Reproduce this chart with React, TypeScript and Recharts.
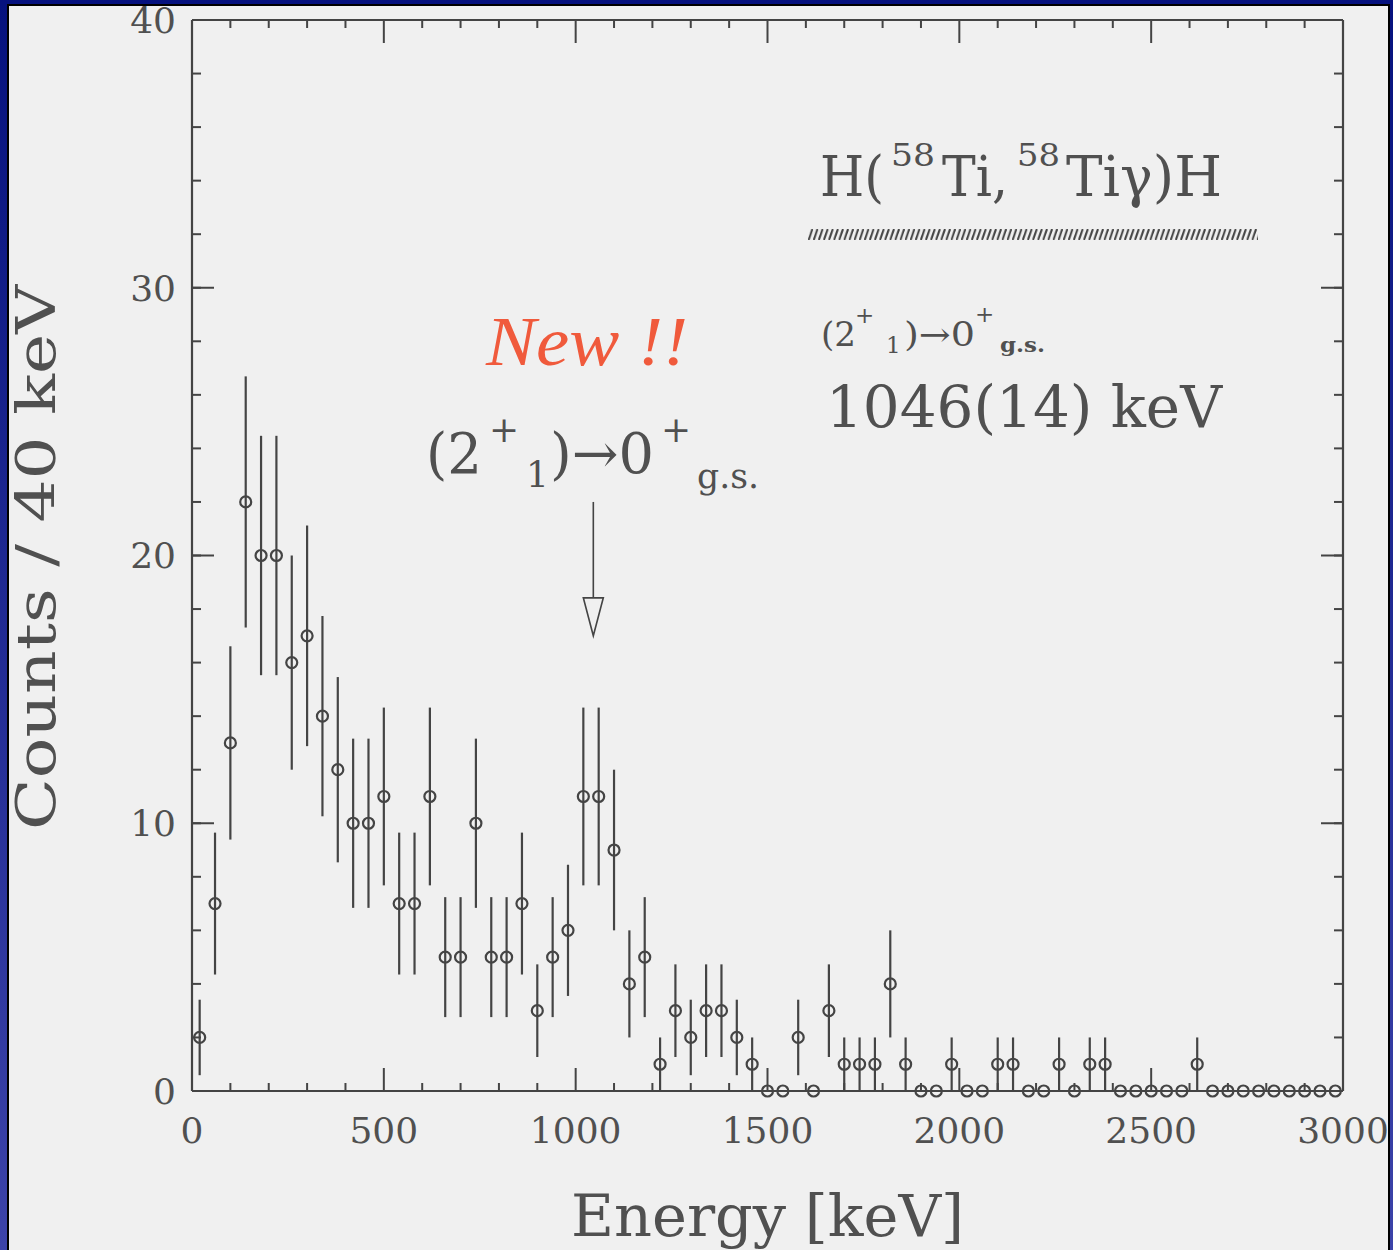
import React from "react";
import { ScatterChart, Scatter, XAxis, YAxis, ErrorBar, ReferenceLine } from "recharts";

// bin centres, 40 keV bins
const energies = [
  20, 60, 100, 140, 180, 220, 260, 300, 340, 380,
  420, 460, 500, 540, 580, 620, 660, 700, 740, 780,
  820, 860, 900, 940, 980, 1020, 1060, 1100, 1140, 1180,
  1220, 1260, 1300, 1340, 1380, 1420, 1460, 1500, 1540, 1580,
  1620, 1660, 1700, 1740, 1780, 1820, 1860, 1900, 1940, 1980,
  2020, 2060, 2100, 2140, 2180, 2220, 2260, 2300, 2340, 2380,
  2420, 2460, 2500, 2540, 2580, 2620, 2660, 2700, 2740, 2780,
  2820, 2860, 2900, 2940, 2980,
];

const counts = [
  2, 7, 13, 22, 20, 20, 16, 17, 14, 12,
  10, 10, 11, 7, 7, 11, 5, 5, 10, 5,
  5, 7, 3, 5, 6, 11, 11, 9, 4, 5,
  1, 3, 2, 3, 3, 2, 1, 0, 0, 2,
  0, 3, 1, 1, 1, 4, 1, 0, 0, 1,
  0, 0, 1, 1, 0, 0, 1, 0, 1, 1,
  0, 0, 0, 0, 0, 1, 0, 0, 0, 0,
  0, 0, 0, 0, 0,
];

// statistical errors as drawn
const errors = [
  1.41, 2.65, 3.61, 4.69, 4.47, 4.47, 4.0, 4.12, 3.74, 3.46,
  3.16, 3.16, 3.32, 2.65, 2.65, 3.32, 2.24, 2.24, 3.16, 2.24,
  2.24, 2.65, 1.73, 2.24, 2.45, 3.32, 3.32, 3.0, 2.0, 2.24,
  1.0, 1.73, 1.41, 1.73, 1.73, 1.41, 1.0, 0, 0, 1.41,
  0, 1.73, 1.0, 1.0, 1.0, 2.0, 1.0, 0, 0, 1.0,
  0, 0, 1.0, 1.0, 0, 0, 1.0, 0, 1.0, 1.0,
  0, 0, 0, 0, 0, 1.0, 0, 0, 0, 0,
  0, 0, 0, 0, 0,
];

const xMajorTicks = [0, 500, 1000, 1500, 2000, 2500, 3000];
const xMinorTicks = [
  100, 200, 300, 400, 600, 700, 800, 900, 1100, 1200, 1300, 1400,
  1600, 1700, 1800, 1900, 2100, 2200, 2300, 2400, 2600, 2700, 2800, 2900,
];
const yMajorTicks = [0, 10, 20, 30, 40];
const yMinorTicks = [0, 2, 4, 6, 8, 10, 12, 14, 16, 18, 20, 22, 24, 26, 28, 30, 32, 34, 36, 38, 40];

// arrow marking the new transition
const peakEnergy = 1046;
const arrowTop = 22;
const arrowTip = 17;

const INK = "#444";
const TEXT = "#505050";
const FONT = "DejaVu Serif";

const data = energies.map((e, i) => ({ e, c: counts[i], err: errors[i] }));

const OpenCircle = (p: any) => (
  <circle cx={p.cx} cy={p.cy} r={5.5} fill="none" stroke={INK} strokeWidth={2.2} />
);

const NoLabel = () => <g />;

// short inward marks at top and bottom of the frame
const edgeTicks = (len: number) => (p: any) => {
  const top = Math.min(p.y1, p.y2);
  const bottom = Math.max(p.y1, p.y2);
  return (
    <g stroke={INK} strokeWidth={2}>
      <line x1={p.x1} x2={p.x1} y1={top} y2={top + len} />
      <line x1={p.x1} x2={p.x1} y1={bottom} y2={bottom - len} />
    </g>
  );
};
const MinorX = edgeTicks(8);
const MajorX = edgeTicks(23);

const ArrowShape = (p: any) => {
  const { x1, y1, x2, y2 } = p;
  const head = 38;
  return (
    <g>
      <line x1={x1} y1={y1} x2={x2} y2={y2 - head} stroke={INK} strokeWidth={1.6} />
      <polygon
        points={`${x2 - 10},${y2 - head} ${x2 + 10},${y2 - head} ${x2},${y2}`}
        fill="none"
        stroke={INK}
        strokeWidth={1.6}
      />
    </g>
  );
};

const tickLine = { stroke: INK, strokeWidth: 2 };
const axisLine = { stroke: INK, strokeWidth: 2.2 };

export default function App() {
  return (
    <div
      style={{
        position: "absolute",
        left: 0,
        top: 0,
        width: 1393,
        height: 1250,
        overflow: "hidden",
        background: "linear-gradient(#06127e, #3c43a9)",
      }}
    >
      <div
        style={{
          position: "absolute",
          left: 7,
          top: 4,
          width: 1383,
          height: 1270,
          boxSizing: "border-box",
          border: "2px solid #000",
          background: "#f0f0f0",
        }}
      />
      <div style={{ position: "absolute", left: 0, top: 0 }}>
        <ScatterChart width={1393} height={1250} margin={{ top: 20, right: 50, bottom: 99, left: 92 }}>
          {/* labels */}
          <XAxis
            xAxisId="main"
            dataKey="e"
            type="number"
            domain={[0, 3000]}
            ticks={xMajorTicks}
            interval={0}
            tickLine={false}
            axisLine={false}
            tickSize={0}
            tickMargin={26}
            height={60}
            tick={{ fill: TEXT, fontSize: 36, fontFamily: FONT }}
          />
          <YAxis
            yAxisId="main"
            dataKey="c"
            type="number"
            domain={[0, 40]}
            ticks={yMajorTicks}
            interval={0}
            tickLine={false}
            axisLine={false}
            tickSize={0}
            tickMargin={16}
            width={100}
            tick={{ fill: TEXT, fontSize: 36, fontFamily: FONT }}
          />

          {/* frame lines and inward y tick marks */}
          <XAxis xAxisId="bFrame" orientation="bottom" mirror type="number" domain={[0, 3000]} allowDataOverflow
            ticks={xMajorTicks} interval={0} tick={NoLabel} tickLine={false} axisLine={axisLine} height={1} />
          <XAxis xAxisId="tFrame" orientation="top" mirror type="number" domain={[0, 3000]} allowDataOverflow
            ticks={xMajorTicks} interval={0} tick={NoLabel} tickLine={false} axisLine={axisLine} height={1} />
          <YAxis yAxisId="lMinor" orientation="left" mirror type="number" domain={[0, 40]} allowDataOverflow
            ticks={yMinorTicks} interval={0} tick={NoLabel} tickSize={8} tickLine={tickLine} axisLine={false} width={1} />
          <YAxis yAxisId="lMajor" orientation="left" mirror type="number" domain={[0, 40]} allowDataOverflow
            ticks={yMajorTicks} interval={0} tick={NoLabel} tickSize={22} tickLine={tickLine} axisLine={axisLine} width={1} />
          <YAxis yAxisId="rMinor" orientation="right" mirror type="number" domain={[0, 40]} allowDataOverflow
            ticks={yMinorTicks} interval={0} tick={NoLabel} tickSize={8} tickLine={tickLine} axisLine={false} width={1} />
          <YAxis yAxisId="rMajor" orientation="right" mirror type="number" domain={[0, 40]} allowDataOverflow
            ticks={yMajorTicks} interval={0} tick={NoLabel} tickSize={22} tickLine={tickLine} axisLine={axisLine} width={1} />

          {/* inward x tick marks, top and bottom */}
          {xMinorTicks.map((v) => (
            <ReferenceLine key={`mx${v}`} xAxisId="main" yAxisId="main" x={v} shape={MinorX} />
          ))}
          {xMajorTicks.map((v) => (
            <ReferenceLine key={`Mx${v}`} xAxisId="main" yAxisId="main" x={v} shape={MajorX} />
          ))}

          <Scatter
            xAxisId="main"
            yAxisId="main"
            data={data}
            dataKey="c"
            shape={OpenCircle}
            isAnimationActive={false}
          >
            <ErrorBar dataKey="err" direction="y" width={0} stroke={INK} strokeWidth={2.2} />
          </Scatter>

          <ReferenceLine
            xAxisId="main"
            yAxisId="main"
            segment={[
              { x: peakEnergy, y: arrowTop },
              { x: peakEnergy, y: arrowTip },
            ]}
            shape={ArrowShape}
          />
        </ScatterChart>
      </div>

      {/* annotations and axis titles */}
      <svg
        width={1393}
        height={1250}
        style={{ position: "absolute", left: 0, top: 0, pointerEvents: "none" }}
        fontFamily={FONT}
        fill={TEXT}
      >
        <defs>
          <pattern id="hatch" x={808} y={229} width={5.1} height={11} patternUnits="userSpaceOnUse">
            <line x1={0.6} y1={11} x2={4.4} y2={0} stroke={INK} strokeWidth={2} />
          </pattern>
        </defs>

        {/* reaction */}
        <text x={820} y={196} fontSize={56} textLength={64} lengthAdjust="spacingAndGlyphs">H(</text>
        <text x={891} y={166} fontSize={32} textLength={44} lengthAdjust="spacingAndGlyphs">58</text>
        <text x={942} y={196} fontSize={56} textLength={66} lengthAdjust="spacingAndGlyphs">Ti,</text>
        <text x={1017} y={166} fontSize={32} textLength={43} lengthAdjust="spacingAndGlyphs">58</text>
        <text x={1066} y={196} fontSize={56} textLength={156} lengthAdjust="spacingAndGlyphs">Tiγ)H</text>
        <rect x={808} y={229} width={450} height={11} fill="url(#hatch)" />

        {/* right-hand transition label */}
        <text x={821} y={346} fontSize={33} textLength={35} lengthAdjust="spacingAndGlyphs">(2</text>
        <text x={855} y={323} fontSize={23}>+</text>
        <text x={886} y={353} fontSize={23}>1</text>
        <text x={904} y={346} fontSize={33} textLength={71} lengthAdjust="spacingAndGlyphs">)→0</text>
        <text x={975} y={322} fontSize={23}>+</text>
        <text x={1000} y={352} fontSize={21} fontWeight="bold" textLength={45} lengthAdjust="spacingAndGlyphs">g.s.</text>
        <text x={826} y={427} fontSize={57} textLength={396} lengthAdjust="spacingAndGlyphs">1046(14) keV</text>

        {/* new label */}
        <text
          x={486}
          y={365}
          fontSize={70}
          fontFamily="Liberation Serif"
          fontStyle="italic"
          fill="#f05a3c"
          textLength={202}
          lengthAdjust="spacingAndGlyphs"
        >
          New !!
        </text>
        <text x={426} y={473} fontSize={56} textLength={56} lengthAdjust="spacingAndGlyphs">(2</text>
        <text x={489} y={442} fontSize={36}>+</text>
        <text x={526} y={487} fontSize={36}>1</text>
        <text x={550} y={473} fontSize={56} textLength={104} lengthAdjust="spacingAndGlyphs">)→0</text>
        <text x={661} y={442} fontSize={36}>+</text>
        <text x={697} y={488} fontSize={36} textLength={62} lengthAdjust="spacingAndGlyphs">g.s.</text>

        {/* axis titles */}
        <text x={571} y={1236} fontSize={58} textLength={393} lengthAdjust="spacingAndGlyphs">Energy [keV]</text>
        <text
          transform="translate(55,830) rotate(-90)"
          x={0}
          y={0}
          fontSize={54}
          textLength={545}
          lengthAdjust="spacingAndGlyphs"
        >
          Counts / 40 keV
        </text>
      </svg>
    </div>
  );
}
